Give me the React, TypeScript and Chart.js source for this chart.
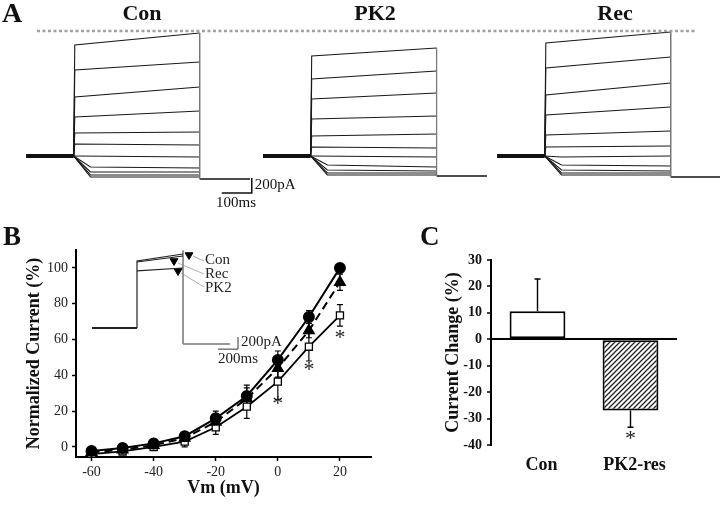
import React, { useEffect, useRef } from 'react';
import { Chart, registerables } from 'chart.js';

Chart.register(...registerables);

const SERIF = "'Liberation Serif', 'Times New Roman', Times, serif";
const INK = '#1a1a1a';

// ---------------- Panel A: whole-cell current traces (pA, relative to holding) ----------------
const traceGroups = ['Con', 'PK2', 'Rec'];
const conStart = [1480, 1147, 787, 520, 307, 160, 0, -147, -213, -253, -280];
const conEnd = [1640, 1253, 920, 600, 320, 147, -13, -160, -213, -253, -280];
const pk2Start = [1333, 1027, 760, 493, 267, 120, 0, -120, -187, -227, -253];
const pk2End = [1440, 1133, 840, 533, 293, 107, -13, -147, -200, -227, -253];
const recStart = [1507, 1173, 813, 547, 280, 120, -13, -120, -187, -227, -253];
const recEnd = [1653, 1320, 973, 653, 333, 133, 0, -133, -200, -227, -253];
const tailLevels = [-307, -267, -280];
const dottedRefLevel = 1667;

// ---------------- Panel B: normalized I-V ----------------
const vmLevels = [-60, -50, -40, -30, -20, -10, 0, 10, 20];
const conIV = [-2.2, -0.6, 2, 6, 16, 28.5, 48.6, 72.6, 100];
const conIVErr = [1, 1, 1.5, 2.5, 4, 6, 5, 3.5, 0];
const recIV = [-3, -1.5, 1, 5, 14, 27, 44, 65, 92];
const recIVErr = [1, 1, 1.5, 2.5, 4, 6, 5, 4, 4.5];
const pk2IV = [-4, -2.5, 0, 3, 11, 22.5, 36.5, 56, 73.5];
const pk2IVErr = [1, 1, 1.5, 3, 4, 6.5, 10, 8, 6];
const ivXTicks = [-60, -40, -20, 0, 20];
const ivYTicks = [0, 20, 40, 60, 80, 100];
const starVm = [0, 10, 20];
const starLevel = [24, 43, 61];

// inset traces (pA): start / end of step
const insetCon = [1489, 1644];
const insetRec = [1467, 1600];
const insetPK2 = [1267, 1333];
const insetTail = -356;
const insetLabels = ['Con', 'Rec', 'PK2'];

// ---------------- Panel C: current change ----------------
const barLabels = ['Con', 'PK2-res'];
const barValues = [10.6, -26.9];
const barErrors = [12.2, 6.4];

// ---------------- helpers ----------------
const errorBarPlugin = {
  id: 'errorBars',
  beforeDatasetsDraw(chart: any) {
    const ctx = chart.ctx;
    chart.data.datasets.forEach((ds: any, di: number) => {
      if (!ds.errorBars) return;
      const meta = chart.getDatasetMeta(di);
      const ys = chart.scales[meta.yAxisID];
      meta.data.forEach((el: any, i: number) => {
        const err = ds.errorBars[i];
        if (!err) return;
        const raw = ds.data[i];
        const v = typeof raw === 'number' ? raw : raw.y;
        let lo = v - err;
        let hi = v + err;
        if (ds.errorOneSided) {
          if (v >= 0) lo = v;
          else hi = v;
        }
        const x = el.x;
        const y1 = ys.getPixelForValue(lo);
        const y2 = ys.getPixelForValue(hi);
        const c = ds.errorCap || 3;
        ctx.save();
        ctx.strokeStyle = '#000';
        ctx.lineWidth = ds.errorWidth || 1.2;
        ctx.beginPath();
        ctx.moveTo(x, y1);
        ctx.lineTo(x, y2);
        if (!ds.errorOneSided || v < 0) {
          ctx.moveTo(x - c, y1);
          ctx.lineTo(x + c, y1);
        }
        if (!ds.errorOneSided || v >= 0) {
          ctx.moveTo(x - c, y2);
          ctx.lineTo(x + c, y2);
        }
        ctx.stroke();
        ctx.restore();
      });
    });
  },
};

function textPlugin(id: string, draw: (chart: any, ctx: CanvasRenderingContext2D) => void) {
  return {
    id,
    afterDraw(chart: any) {
      const ctx = chart.ctx;
      ctx.save();
      draw(chart, ctx);
      ctx.restore();
    },
  };
}

function txt(ctx: CanvasRenderingContext2D, s: string, x: number, y: number, font: string, align: CanvasTextAlign = 'left', base: CanvasTextBaseline = 'alphabetic', color = '#111') {
  ctx.font = font;
  ctx.textAlign = align;
  ctx.textBaseline = base;
  ctx.fillStyle = color;
  ctx.fillText(s, x, y);
}

function hatchPattern() {
  const c = document.createElement('canvas');
  c.width = 5;
  c.height = 5;
  const g = c.getContext('2d')!;
  g.fillStyle = '#fff';
  g.fillRect(0, 0, 5, 5);
  g.strokeStyle = '#222';
  g.lineWidth = 1.3;
  g.beginPath();
  g.moveTo(-1, 6); g.lineTo(6, -1);
  g.moveTo(-1, 1); g.lineTo(1, -1);
  g.moveTo(4, 6); g.lineTo(6, 4);
  g.stroke();
  return g.createPattern(c, 'repeat');
}

const HOLD_END = 170;
const STEP_END = 620;
const TAIL_END = 800;
const GROUP_OFFSETS = [93, 939, 1775];

function line(data: any[], color: string, width: number, extra: any = {}) {
  return { data, showLine: true, borderColor: color, borderWidth: width, pointRadius: 0, fill: false, tension: 0, ...extra };
}

function buildA(canvas: HTMLCanvasElement) {
  const starts = [conStart, pk2Start, recStart];
  const ends = [conEnd, pk2End, recEnd];
  const ds: any[] = [];
  ds.push(line([{ x: 132, y: dottedRefLevel }, { x: 2482, y: dottedRefLevel }], '#a0a0a0', 2.5, { borderDash: [3, 2.5] }));
  traceGroups.forEach((_, gi) => {
    const o = GROUP_OFFSETS[gi];
    const tail = tailLevels[gi];
    ds.push(line([{ x: o, y: 0 }, { x: o + HOLD_END, y: 0 }], '#111', 4));
    ds.push(line([{ x: o + STEP_END, y: ends[gi][0] }, { x: o + STEP_END, y: tail }], '#777', 1));
    ds.push(line([{ x: o + STEP_END, y: tail }, { x: o + TAIL_END, y: tail }], '#111', 1.4));
    starts[gi].forEach((s, i) => {
      const e = ends[gi][i];
      const tEarly = s >= 0 ? 4 : 60;
      ds.push(line([
        { x: o + HOLD_END, y: 0 },
        { x: o + HOLD_END + tEarly, y: s },
        { x: o + STEP_END, y: e },
      ], INK, 1.1));
    });
  });
  // scale bar 100 ms / 200 pA
  ds.push(line([{ x: 792, y: -493 }, { x: 899, y: -493 }, { x: 899, y: -293 }], '#111', 1.5));

  return new Chart(canvas, {
    type: 'scatter',
    data: { datasets: ds },
    options: {
      animation: false,
      responsive: false,
      devicePixelRatio: 1,
      layout: { padding: 0 },
      plugins: { legend: { display: false }, tooltip: { enabled: false } },
      scales: {
        x: { type: 'linear', display: false, min: 0, max: 2571 },
        y: { type: 'linear', display: false, min: -747, max: 2080 },
      },
    },
    plugins: [
      textPlugin('textA', (chart, ctx) => {
        const xs = chart.scales.x;
        const ys = chart.scales.y;
        txt(ctx, 'A', 2, 22, `bold 28px ${SERIF}`);
        const cx = [142, 375, 615];
        traceGroups.forEach((t, i) => txt(ctx, t, cx[i], 20, `bold 22px ${SERIF}`, 'center'));
        txt(ctx, '200pA', xs.getPixelForValue(899) + 3, ys.getPixelForValue(-390), `15px ${SERIF}`, 'left', 'middle');
        txt(ctx, '100ms', xs.getPixelForValue(843), ys.getPixelForValue(-627), `15px ${SERIF}`, 'center', 'middle');
      }),
    ],
  } as any);
}

function buildB(canvas: HTMLCanvasElement) {
  const pts = (ys: number[]) => vmLevels.map((v, i) => ({ x: v, y: ys[i] }));
  const I = { xAxisID: 'ix', yAxisID: 'iy' };
  const ds: any[] = [
    line(pts(conIV), '#000', 2, { pointRadius: 5, pointStyle: 'circle', pointBackgroundColor: '#000', pointBorderColor: '#000', errorBars: conIVErr }),
    line(pts(recIV), '#000', 2, { borderDash: [8, 5], pointRadius: 5.5, pointStyle: 'triangle', pointBackgroundColor: '#000', pointBorderColor: '#000', errorBars: recIVErr }),
    line(pts(pk2IV), '#000', 1.8, { pointRadius: 5, pointStyle: 'rect', pointBackgroundColor: '#fff', pointBorderColor: '#000', pointBorderWidth: 1.3, errorBars: pk2IVErr }),
    // inset
    line([{ x: 0, y: 0 }, { x: 450, y: 0 }], '#222', 2.2, I),
    line([{ x: 450, y: 0 }, { x: 450, y: insetCon[0] }, { x: 910, y: insetCon[1] }], '#222', 1.2, I),
    line([{ x: 450, y: insetRec[0] }, { x: 910, y: insetRec[1] }], '#222', 1.2, I),
    line([{ x: 450, y: insetPK2[0] }, { x: 910, y: insetPK2[1] }], '#222', 1.2, I),
    line([{ x: 910, y: insetCon[1] + 80 }, { x: 910, y: insetTail }], '#888', 1, I),
    line([{ x: 910, y: insetTail }, { x: 1380, y: insetTail }], '#333', 1.2, I),
    line([{ x: 1010, y: 1600 }, { x: 1120, y: 1489 }], '#999', 0.8, I),
    line([{ x: 860, y: 1444 }, { x: 1120, y: 1200 }], '#999', 0.8, I),
    line([{ x: 890, y: 1222 }, { x: 1120, y: 911 }], '#999', 0.8, I),
    {
      ...I,
      data: [{ x: 970, y: 1622 }, { x: 820, y: 1489 }, { x: 860, y: 1267 }],
      showLine: false,
      pointStyle: 'triangle',
      rotation: 180,
      pointRadius: 4.5,
      pointBackgroundColor: '#000',
      pointBorderColor: '#000',
    },
    line([{ x: 1260, y: -470 }, { x: 1460, y: -470 }, { x: 1460, y: -200 }], '#333', 1, I),
  ];

  const axisFont = { family: SERIF, size: 14 };
  const titleFont = { family: SERIF, size: 18, weight: 'bold' };
  const grid = { display: true, drawOnChartArea: false, drawTicks: true, tickLength: 4, color: '#000', tickColor: '#000', tickWidth: 1.5 };

  return new Chart(canvas, {
    type: 'scatter',
    data: { datasets: ds },
    options: {
      animation: false,
      responsive: false,
      devicePixelRatio: 1,
      layout: { padding: { left: 0, right: 14, top: 38, bottom: 0 } },
      plugins: { legend: { display: false }, tooltip: { enabled: false } },
      scales: {
        x: {
          type: 'linear', position: 'bottom', min: -65, max: 30,
          afterBuildTicks: (s: any) => { s.ticks = ivXTicks.map((v) => ({ value: v })); },
          afterFit: (s: any) => { s.height = 49; },
          border: { display: true, color: '#000', width: 2 },
          grid,
          ticks: { font: axisFont, color: '#222', padding: 3, maxRotation: 0 },
          title: { display: true, text: 'Vm (mV)', font: titleFont, color: '#111', padding: { top: 0, bottom: 7 } },
        },
        y: {
          type: 'linear', position: 'left', min: -5.6, max: 110,
          afterBuildTicks: (s: any) => { s.ticks = ivYTicks.map((v) => ({ value: v })); },
          afterFit: (s: any) => { s.width = 76; },
          border: { display: true, color: '#000', width: 2 },
          grid,
          ticks: { font: axisFont, color: '#222', padding: 4 },
          title: { display: true, text: 'Normalized Current (%)', font: titleFont, color: '#111', padding: { top: 24, bottom: 0 } },
        },
        ix: { type: 'linear', axis: 'x', position: 'bottom', display: false, min: -160, max: 2790 },
        iy: { type: 'linear', axis: 'y', position: 'left', display: false, min: -2867, max: 1733 },
      },
    },
    plugins: [
      errorBarPlugin,
      textPlugin('textB', (chart, ctx) => {
        const xs = chart.scales.x;
        const ys = chart.scales.y;
        const ix = chart.scales.ix;
        const iy = chart.scales.iy;
        txt(ctx, 'B', 3, 33, `bold 27px ${SERIF}`);
        starVm.forEach((v, i) => txt(ctx, '*', xs.getPixelForValue(v), ys.getPixelForValue(starLevel[i]), `22px ${SERIF}`, 'center', 'middle', '#222'));
        const ly = [1511, 1200, 889];
        insetLabels.forEach((l, i) => txt(ctx, l, ix.getPixelForValue(1130), iy.getPixelForValue(ly[i]), `15px ${SERIF}`, 'left', 'middle', '#222'));
        txt(ctx, '200pA', ix.getPixelForValue(1490), iy.getPixelForValue(-310), `15px ${SERIF}`, 'left', 'middle', '#222');
        txt(ctx, '200ms', ix.getPixelForValue(1260), iy.getPixelForValue(-680), `15px ${SERIF}`, 'left', 'middle', '#222');
      }),
    ],
  } as any);
}

function buildC(canvas: HTMLCanvasElement) {
  const pattern = hatchPattern();
  return new Chart(canvas, {
    type: 'bar',
    data: {
      labels: barLabels,
      datasets: [
        {
          data: barValues,
          backgroundColor: ['#fff', pattern],
          borderColor: '#000',
          borderWidth: 2,
          borderSkipped: false,
          barPercentage: 0.6,
          categoryPercentage: 1,
          errorBars: barErrors,
          errorOneSided: true,
          errorCap: 3,
          errorWidth: 1.4,
        },
      ],
    },
    options: {
      animation: false,
      responsive: false,
      devicePixelRatio: 1,
      layout: { padding: { left: 0, right: 43, top: 48, bottom: 0 } },
      plugins: { legend: { display: false }, tooltip: { enabled: false } },
      scales: {
        x: {
          afterFit: (s: any) => { s.height = 61; },
          grid: { display: false },
          border: { display: false },
          ticks: { font: { family: SERIF, size: 18, weight: 'bold' }, color: '#111', padding: 2, labelOffset: 4 },
        },
        y: {
          min: -40, max: 30,
          afterFit: (s: any) => { s.width = 106; },
          border: { display: true, color: '#000', width: 2 },
          grid: {
            drawOnChartArea: true,
            color: (c: any) => (c.tick && c.tick.value === 0 ? '#000' : 'rgba(0,0,0,0)'),
            lineWidth: 2,
            drawTicks: true,
            tickLength: 4,
            tickColor: '#000',
            tickWidth: 1.5,
          },
          ticks: { stepSize: 10, font: { family: SERIF, size: 14, weight: 'bold' }, color: '#111', padding: 5 },
          title: { display: true, text: 'Current Change (%)', font: { family: SERIF, size: 18, weight: 'bold' }, color: '#111', padding: { top: 58, bottom: 0 } },
        },
      },
    },
    plugins: [
      errorBarPlugin,
      textPlugin('textC', (chart, ctx) => {
        txt(ctx, 'C', 35, 33, `bold 27px ${SERIF}`);
        txt(ctx, '*', chart.scales.x.getPixelForValue(1), chart.scales.y.getPixelForValue(-37.8), `22px ${SERIF}`, 'center', 'middle', '#222');
      }),
    ],
  } as any);
}

export default function App() {
  const aRef = useRef<HTMLCanvasElement>(null);
  const bRef = useRef<HTMLCanvasElement>(null);
  const cRef = useRef<HTMLCanvasElement>(null);

  useEffect(() => {
    const charts = [buildA(aRef.current!), buildB(bRef.current!), buildC(cRef.current!)];
    return () => charts.forEach((c) => c.destroy());
  }, []);

  return (
    <div style={{ position: 'fixed', left: 0, top: 0, width: 720, height: 506, background: '#fff', overflow: 'hidden' }}>
      <canvas ref={aRef} width={720} height={212} style={{ position: 'absolute', left: 0, top: 0, width: 720, height: 212 }} />
      <canvas ref={bRef} width={385} height={294} style={{ position: 'absolute', left: 0, top: 212, width: 385, height: 294 }} />
      <canvas ref={cRef} width={335} height={294} style={{ position: 'absolute', left: 385, top: 212, width: 335, height: 294 }} />
    </div>
  );
}
